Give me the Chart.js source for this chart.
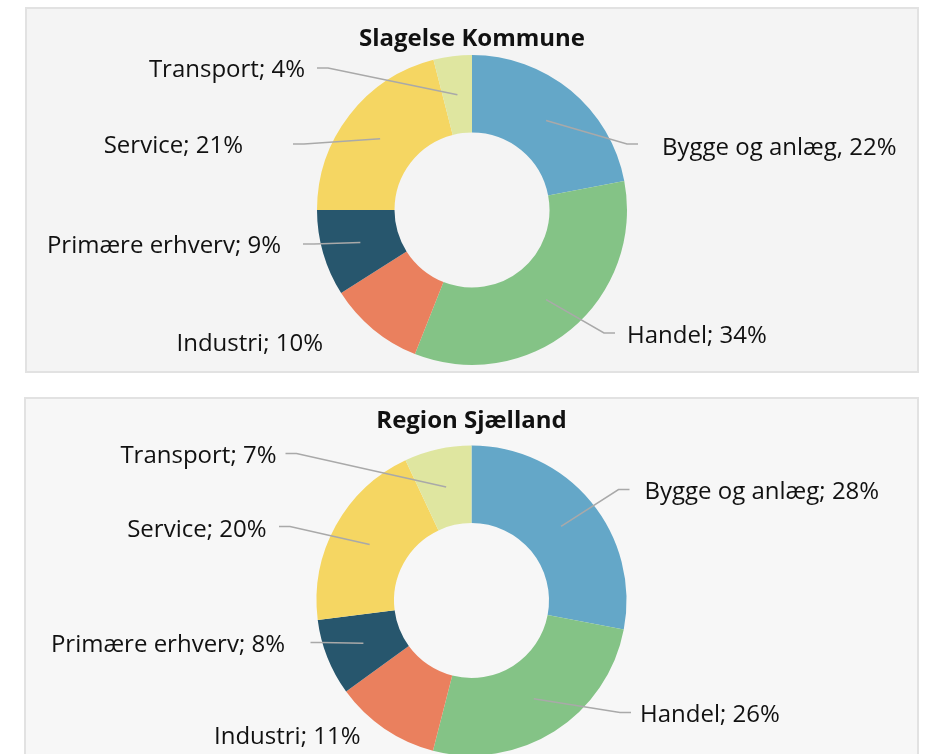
<!DOCTYPE html>
<html>
<head>
<meta charset="utf-8">
<script src="https://cdn.jsdelivr.net/npm/chart.js@4"></script>
<style>
  html, body { margin: 0; padding: 0; background: #fff; overflow: hidden; }
  body { width: 925px; height: 754px; position: relative; }
  .panel { position: absolute; box-sizing: border-box; border: 2px solid #e2e2e2; }
  canvas { position: absolute; }
</style>
</head>
<body>
<div class="panel" style="left:25px; top:7px; width:894px; height:366px; background:#f4f4f4;"></div>
<div class="panel" style="left:24px; top:397px; width:895px; height:400px; background:#f7f7f7;"></div>
<canvas id="chart-slagelse" width="892" height="364" style="left:26px; top:8px;"></canvas>
<canvas id="chart-region" width="893" height="400" style="left:25px; top:398px;"></canvas>

<script>
// ---- Data ----
const categories      = ['Bygge og anlæg', 'Handel', 'Industri', 'Primære erhverv', 'Service', 'Transport'];
const slagelseValues  = [22, 34, 10, 9, 21, 4];
const regionValues    = [28, 26, 11, 8, 20, 7];
const slagelseSeps    = [',', ';', ';', ';', ';', ';'];
const regionSeps      = [';', ';', ';', ';', ';', ';'];

const sliceColors = ['#64a7c8', '#84c386', '#ea805e', '#27566d', '#f5d662', '#dfe6a0'];

// label placement (offsets from donut centre): leader elbow + text anchor
const slagelseLayout = [
  { elbow: [155, -66],  text: [190, -64] },
  { elbow: [132, 123],  text: [155, 124] },
  { elbow: null,        text: [-149, 132] },
  { elbow: [-158, 34],  text: [-191, 34] },
  { elbow: [-168, -66], text: [-229, -66] },
  { elbow: [-144, -142], text: [-167, -142] },
];
const regionLayout = [
  { elbow: [147, -111],  text: [173, -110] },
  { elbow: [148.5, 112], text: [168.5, 112.5] },
  { elbow: null,         text: [-111, 134.5] },
  { elbow: [-150, 42],   text: [-186.5, 42.5] },
  { elbow: [-181.5, -74], text: [-205, -72.5] },
  { elbow: [-175, -147], text: [-195, -146.5] },
];

const FONT = "'Open Sans', 'DejaVu Sans', sans-serif";

// ---- Outside labels with leader lines ----
const sliceLabels = {
  id: 'sliceLabels',
  afterDatasetsDraw(chart, args, opts) {
    const ctx = chart.ctx;
    const meta = chart.getDatasetMeta(0);
    const values = chart.data.datasets[0].data;
    ctx.save();
    meta.data.forEach((arc, i) => {
      const p = arc.getProps(['x', 'y', 'startAngle', 'endAngle', 'innerRadius', 'outerRadius'], true);
      const mid = (p.startAngle + p.endAngle) / 2;
      const rMid = (p.innerRadius + p.outerRadius) / 2;
      const lay = opts.layout[i];
      const side = lay.text[0] >= 0 ? 1 : -1;

      if (lay.elbow) {
        const ex = p.x + lay.elbow[0], ey = p.y + lay.elbow[1];
        ctx.beginPath();
        ctx.moveTo(p.x + Math.cos(mid) * rMid, p.y + Math.sin(mid) * rMid);
        ctx.lineTo(ex, ey);
        ctx.lineTo(ex + side * 11, ey);
        ctx.lineWidth = 1.5;
        ctx.strokeStyle = '#a9a9a9';
        ctx.stroke();
      }

      ctx.fillStyle = '#111';
      ctx.font = '24px ' + FONT;
      ctx.textBaseline = 'middle';
      ctx.textAlign = side > 0 ? 'left' : 'right';
      // +2: canvas 'middle' sits a bit above the cap centre
      ctx.fillText(chart.data.labels[i] + opts.seps[i] + ' ' + values[i] + '%',
        p.x + lay.text[0], p.y + lay.text[1] + 2);
    });
    ctx.restore();
  }
};

function makeDonut(id, title, values, seps, layout, titlePad, bottomPad) {
  return new Chart(document.getElementById(id), {
    type: 'doughnut',
    data: {
      labels: categories,
      datasets: [{
        data: values,
        backgroundColor: sliceColors,
        borderWidth: 0,
        hoverOffset: 0,
      }],
    },
    options: {
      responsive: false,
      animation: false,
      radius: 155,
      cutout: '50%',
      layout: { padding: { top: 0, bottom: bottomPad, left: 0, right: 0 } },
      plugins: {
        legend: { display: false },
        tooltip: { enabled: false },
        title: {
          display: true,
          text: title,
          color: '#111',
          font: { family: FONT, size: 24, weight: 'bold', lineHeight: 1.2 },
          padding: titlePad,
        },
        sliceLabels: { layout, seps },
      },
    },
    plugins: [sliceLabels],
  });
}

makeDonut('chart-slagelse', 'Slagelse Kommune', slagelseValues, slagelseSeps, slagelseLayout,
  { top: 16.6, bottom: 1.6 }, 7);
makeDonut('chart-region', 'Region Sjælland', regionValues, regionSeps, regionLayout,
  { top: 8.6, bottom: 9.6 }, 42);
</script>
</body>
</html>
